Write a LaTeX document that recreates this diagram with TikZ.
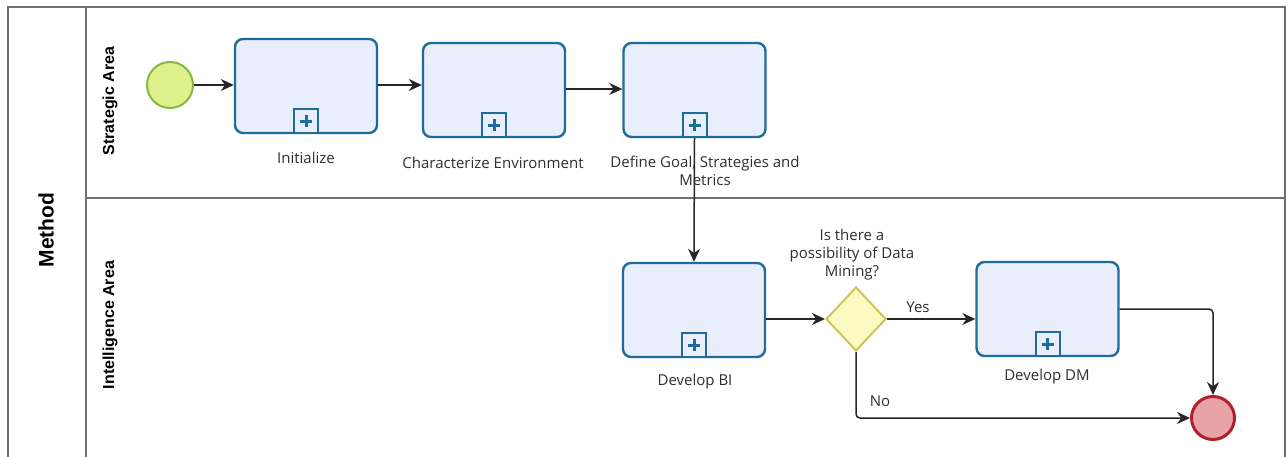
\documentclass[tikz,border=0pt]{standalone}
\usepackage{fontspec}
\setmainfont{Open Sans}
\setsansfont{Liberation Sans}
\usetikzlibrary{arrows.meta,shapes.geometric,calc}
\definecolor{taskfill}{HTML}{E8EEFB}
\definecolor{taskdraw}{HTML}{1F6B9B}
\definecolor{framec}{HTML}{707070}
\definecolor{startfill}{HTML}{DDF08C}
\definecolor{startdraw}{HTML}{86B840}
\definecolor{endfill}{HTML}{E8A3A6}
\definecolor{enddraw}{HTML}{B3202C}
\definecolor{gwfill}{HTML}{FCFAC0}
\definecolor{gwdraw}{HTML}{C9C75A}
\definecolor{txt}{HTML}{2E2E2E}
\tikzset{
  task/.style={draw=taskdraw, fill=taskfill, line width=2.4pt, rounded corners=8pt,
    minimum width=142pt, minimum height=94pt, inner sep=0pt},
  mbox/.style={draw=taskdraw, fill=taskfill, line width=2pt, minimum width=24pt,
    minimum height=24pt, inner sep=0pt, anchor=south},
  plusline/.style={draw=taskdraw, line width=3pt},
  lbl/.style={text=txt, font=\fontsize{15}{18}\selectfont, align=center, inner sep=0pt},
  lane/.style={font=\sffamily\bfseries\fontsize{16}{18}\selectfont, rotate=90, inner sep=0pt},
  flow/.style={draw=black!85, line width=1.5pt, -{Stealth[length=13pt,width=12pt]}},
  frameline/.style={draw=framec, line width=2pt},
}
\newcommand{\submark}[1]{%
  \node[mbox] (#1-m) at (#1.south) {};
  \draw[plusline] ($(#1-m.center)+(-6,0)$) -- ($(#1-m.center)+(6,0)$);
  \draw[plusline] ($(#1-m.center)+(0,-6)$) -- ($(#1-m.center)+(0,6)$);
}
\begin{document}
\begin{tikzpicture}[x=1pt, y=-1pt]
\useasboundingbox (0,0) rectangle (1288,457);
% pool frame
\draw[frameline] (8,458) -- (8,7) -- (1285,7) -- (1285,458);
\draw[frameline] (86,7) -- (86,458);
\draw[frameline] (86,198) -- (1285,198);
\node[lane, font=\sffamily\bfseries\fontsize{21}{24}\selectfont] (method) at (46,230) {Method};
\node[lane] (lane1) at (110,101) {Strategic Area};
\node[lane] (lane2) at (110,325) {Intelligence Area};

% start
\node[circle, draw=startdraw, fill=startfill, line width=2pt, minimum size=46pt, inner sep=0pt] (start) at (170,85) {};
% tasks
\node[task] (init) at (306,86) {};
\node[task] (char) at (494,90) {};
\node[task] (def) at (694.5,90) {};
\node[task] (bi) at (694,310) {};
\node[task] (dm) at (1047.5,309) {};
\submark{init}
\submark{char}
\submark{def}
\submark{bi}
\submark{dm}
% labels
\node[lbl] (l1) at (306,158) {Initialize};
\node[lbl] (l2) at (493,163) {Characterize Environment};
\node[lbl] (l3) at (705,171) {Define Goal, Strategies and\\Metrics};
\node[lbl] (l4) at (695,382) {Develop BI};
\node[lbl] (l5) at (1047,377) {Develop DM};
% gateway
\node[diamond, draw=gwdraw, fill=gwfill, line width=2pt, minimum width=60pt, minimum height=64pt, inner sep=0pt] (gw) at (856,319) {};
\node[lbl] (q) at (852,255) {Is there a\\possibility of Data\\Mining?};
% end
\node[circle, draw=enddraw, fill=endfill, line width=3pt, minimum size=43pt, inner sep=0pt] (end) at (1213,418) {};

% flows
\draw[flow] (start) -- (init.west |- start.east);
\draw[flow] (init.east |- 0,85) -- (char.west |- 0,85);
\draw[flow] (char.east |- 0,89) -- (def.west |- 0,89);
\draw[flow] (def.south) -- (bi.north);
\draw[flow] (gw.west -| bi.east) -- (gw.west);
\draw[flow] (gw.east) -- (gw.east -| dm.west);
\node[lbl] (yes) at (918,307) {Yes};
\draw[flow, rounded corners=4pt] (dm.east) -| (end.north);
\draw[flow, rounded corners=4pt] (gw.south) |- (end.west);
\node[lbl] (no) at (880,401) {No};
\end{tikzpicture}
\end{document}
